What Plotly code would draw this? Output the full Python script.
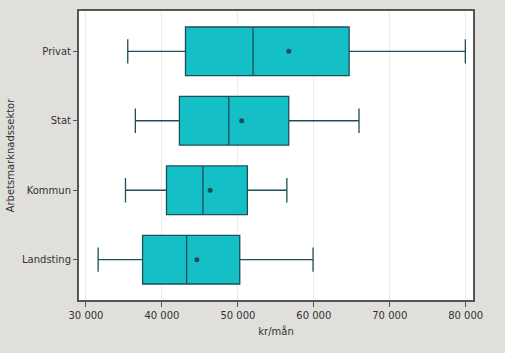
import plotly.graph_objects as go

categories = ["Privat", "Stat", "Kommun", "Landsting"]
lower_whisker = [35500, 36500, 35200, 31600]
q1_values = [43100, 42300, 40600, 37450]
median_values = [52000, 48800, 45400, 43250]
mean_values = [56700, 50500, 46350, 44600]
q3_values = [64650, 56700, 51250, 50250]
upper_whisker = [79950, 65950, 56450, 59900]
x_ticks = [30000, 40000, 50000, 60000, 70000, 80000]
x_tick_labels = ["30 000", "40 000", "50 000", "60 000", "70 000", "80 000"]

fig = go.Figure()
fig.add_trace(go.Box(
    y=categories,
    q1=q1_values, median=median_values, q3=q3_values,
    lowerfence=lower_whisker, upperfence=upper_whisker,
    orientation="h",
    fillcolor="#14C0C6",
    line=dict(color="#1E4E58", width=1.3),
    width=0.7,
    whiskerwidth=0.5,
    boxpoints=False,
    hoverinfo="skip",
    showlegend=False,
))
fig.add_trace(go.Scatter(
    x=mean_values, y=categories, mode="markers",
    marker=dict(symbol="circle", size=5, color="#1B4D5C"),
    showlegend=False, hoverinfo="skip",
))

fig.update_layout(
    width=505, height=353,
    margin=dict(l=79, r=32, t=9, b=53),
    paper_bgcolor="#E0DFDC",
    plot_bgcolor="#FFFFFF",
    font=dict(family="DejaVu Sans", size=10, color="#333333"),
    xaxis=dict(
        range=[29080, 80960],
        tickvals=x_ticks, ticktext=x_tick_labels,
        showgrid=True, gridcolor="#ECECEC", gridwidth=1,
        zeroline=False,
        showline=True, linecolor="#555555", linewidth=2, mirror=True,
        ticks="outside", ticklen=5, tickcolor="#555555", tickwidth=1,
        title=dict(text="kr/mån", font=dict(size=10), standoff=8),
        tickfont=dict(size=10),
    ),
    yaxis=dict(
        type="category",
        categoryorder="array",
        categoryarray=list(reversed(categories)),
        range=[-0.58, 3.58],
        showgrid=False, zeroline=False,
        showline=True, linecolor="#555555", linewidth=2, mirror=True,
        ticks="outside", ticklen=4, tickcolor="#555555", tickwidth=1,
        title=dict(text="Arbetsmarknadssektor", font=dict(size=10), standoff=6),
        tickfont=dict(size=10),
    ),
)

fig.write_html("out.html")
